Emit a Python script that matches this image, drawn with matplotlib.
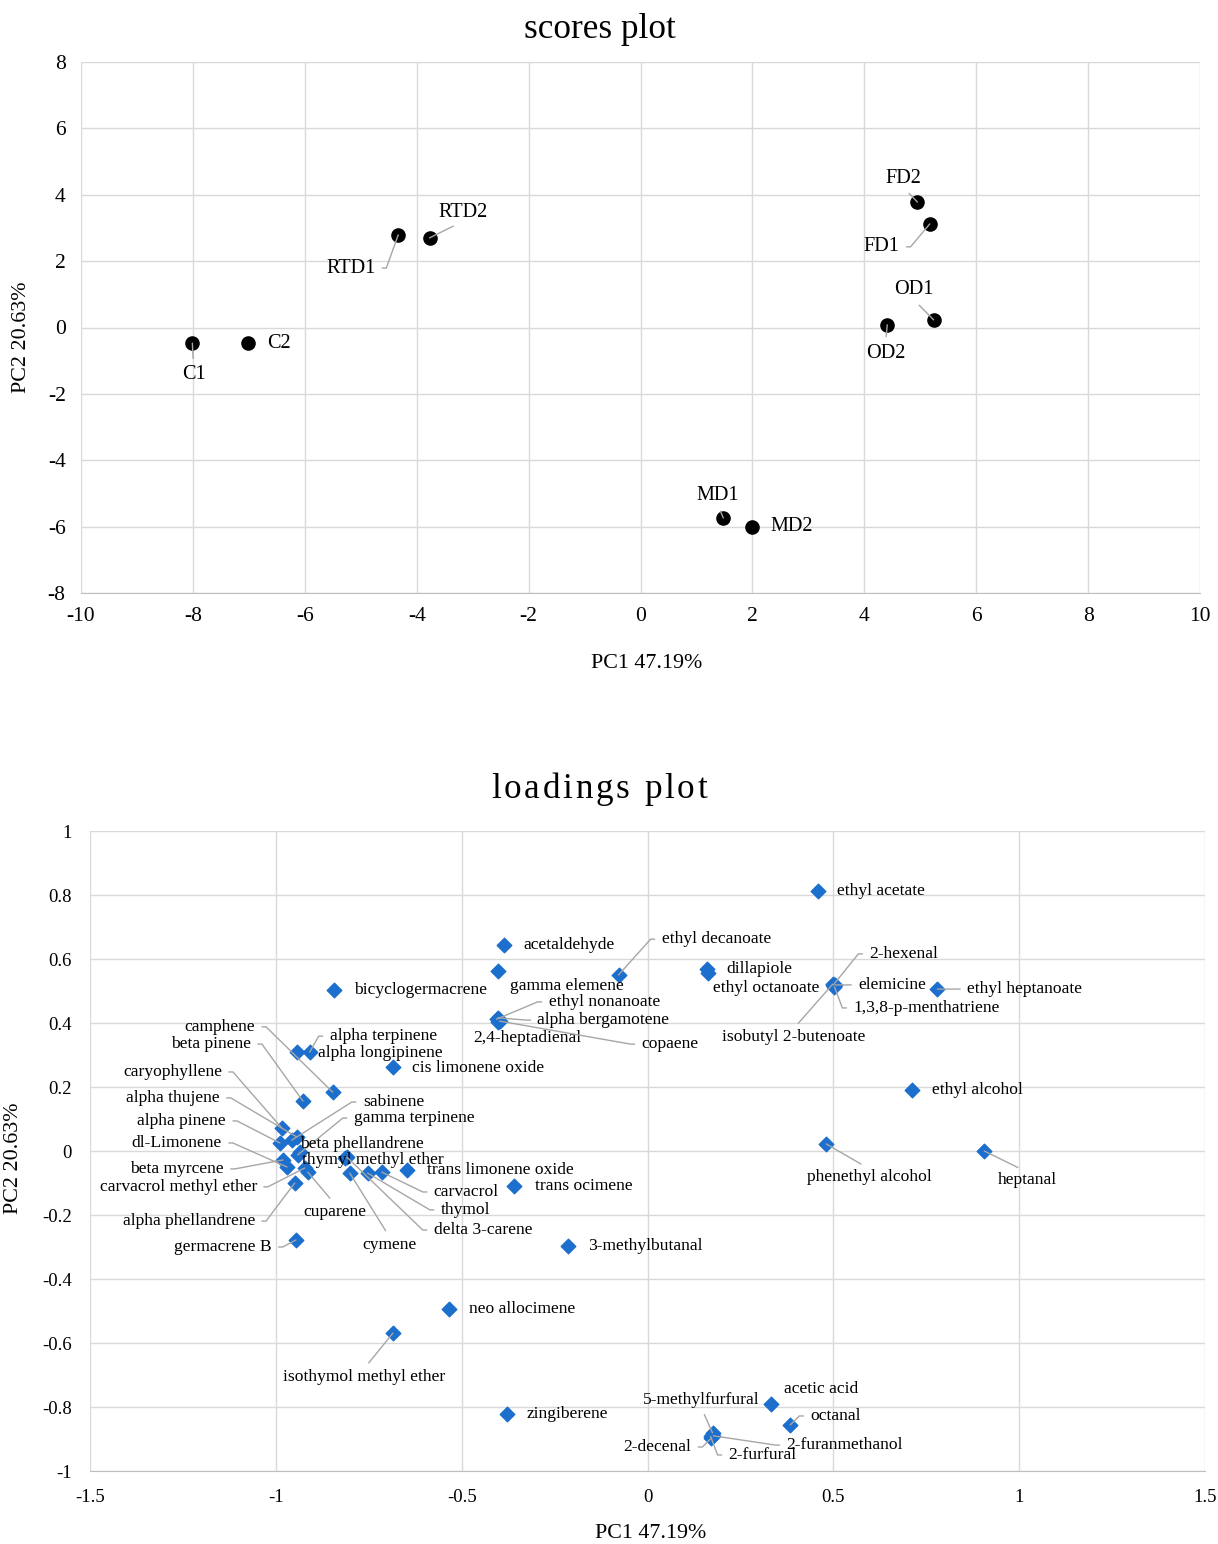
import numpy as np
import matplotlib as mpl
mpl.use('Agg')
import matplotlib.pyplot as plt

plt.rcParams['font.family'] = ['Liberation Serif', 'DejaVu Serif']
plt.rcParams['axes.unicode_minus'] = False

# ---- scores data ----
score_names = ['C1', 'C2', 'RTD1', 'RTD2', 'FD2', 'FD1', 'OD1', 'OD2', 'MD1', 'MD2']
score_pc1 = [-8.01, -7.02, -4.33, -3.77, 4.95, 5.17, 5.24, 4.41, 1.48, 2.00]
score_pc2 = [-0.47, -0.47, 2.79, 2.70, 3.78, 3.12, 0.23, 0.08, -5.74, -6.01]

# ---- loadings data ----
load_names = ['ethyl acetate', 'acetaldehyde', 'gamma elemene', 'ethyl decanoate',
              'dillapiole', 'ethyl octanoate', '2-hexenal', 'elemicine',
              'ethyl heptanoate', '1,3,8-p-menthatriene', 'isobutyl 2-butenoate',
              'bicyclogermacrene', 'ethyl nonanoate', 'alpha bergamotene',
              '2,4-heptadienal', 'copaene', 'alpha terpinene', 'alpha longipinene',
              'cis limonene oxide', 'camphene', 'beta pinene', 'caryophyllene',
              'alpha thujene', 'alpha pinene', 'dl-Limonene', 'beta myrcene',
              'carvacrol methyl ether', 'alpha phellandrene', 'germacrene B',
              'sabinene', 'gamma terpinene', 'beta phellandrene',
              'thymyl methyl ether', 'trans limonene oxide', 'carvacrol', 'thymol',
              'delta 3-carene', 'cuparene', 'cymene', 'trans ocimene',
              '3-methylbutanal', 'ethyl alcohol', 'phenethyl alcohol', 'heptanal',
              'neo allocimene', 'isothymol methyl ether', 'zingiberene',
              'acetic acid', 'octanal', '5-methylfurfural', '2-decenal',
              '2-furfural', '2-furanmethanol']
load_pc1 = [0.460, -0.387, -0.403, -0.078, 0.161, 0.164, 0.500, 0.505, 0.780, 0.503,
            0.498, -0.844, -0.406, -0.403, -0.401, -0.398, -0.909, -0.944, -0.685,
            -0.847, -0.927, -0.984, -0.944, -0.989, -0.970, -0.981, -0.922, -0.949,
            -0.946, -0.957, -0.941, -0.935, -0.815, -0.648, -0.715, -0.753, -0.809,
            -0.914, -0.801, -0.358, -0.215, 0.712, 0.481, 0.906, -0.535, -0.685,
            -0.379, 0.331, 0.384, 0.175, 0.172, 0.170, 0.177]
load_pc2 = [0.812, 0.644, 0.562, 0.550, 0.569, 0.556, 0.519, 0.519, 0.506, 0.513,
            0.521, 0.503, 0.412, 0.416, 0.403, 0.406, 0.309, 0.309, 0.262, 0.184,
            0.156, 0.072, 0.044, 0.025, -0.050, -0.028, -0.053, -0.100, -0.278,
            0.034, -0.012, -0.003, -0.022, -0.059, -0.066, -0.069, -0.019, -0.066,
            -0.069, -0.109, -0.297, 0.191, 0.022, 0.000, -0.494, -0.569, -0.822,
            -0.791, -0.856, -0.881, -0.897, -0.892, -0.890]

# label placement: (x, y, ha, leader)
score_lab = {
    'C1': (-7.99, -1.43, 'center', 'top'), 'C2': (-6.68, -0.47, 'left', None),
    'RTD1': (-4.74, 1.79, 'right', 'stub'), 'RTD2': (-3.18, 3.48, 'center', 'bottom'),
    'FD2': (4.70, 4.50, 'center', 'bottom'), 'FD1': (4.63, 2.43, 'right', 'stub'),
    'OD1': (4.88, 1.13, 'center', 'bottom'), 'OD2': (4.38, -0.77, 'center', 'top'),
    'MD1': (1.38, -5.05, 'center', 'bottom'), 'MD2': (2.32, -6.01, 'left', None),
}
load_lab = [
    (0.511, 0.812, 'left', None), (-0.333, 0.644, 'left', None),
    (-0.371, 0.516, 'left', None), (0.038, 0.662, 'left', 'stub'),
    (0.212, 0.569, 'left', None), (0.462, 0.509, 'right', None),
    (0.597, 0.616, 'left', 'stub'), (0.567, 0.519, 'left', 'stub'),
    (0.860, 0.506, 'left', 'stub'), (0.554, 0.447, 'left', 'stub'),
    (0.392, 0.356, 'center', 'top'), (-0.790, 0.503, 'left', None),
    (-0.266, 0.466, 'left', 'stub'), (-0.296, 0.409, 'left', 'stub'),
    (-0.470, 0.353, 'left', None), (-0.016, 0.334, 'left', 'stub'),
    (-0.855, 0.359, 'left', 'stub'), (-0.887, 0.306, 'left', None),
    (-0.634, 0.259, 'left', None), (-1.056, 0.388, 'right', 'stub'),
    (-1.067, 0.334, 'right', 'stub'), (-1.145, 0.247, 'right', 'stub'),
    (-1.151, 0.166, 'right', 'stub'), (-1.134, 0.094, 'right', 'stub'),
    (-1.145, 0.025, 'right', 'stub'), (-1.140, -0.056, 'right', 'stub'),
    (-1.051, -0.112, 'right', 'stub'), (-1.056, -0.219, 'right', 'stub'),
    (-1.011, -0.300, 'right', 'stub'), (-0.766, 0.153, 'left', 'stub'),
    (-0.790, 0.103, 'left', 'stub'), (-0.935, 0.022, 'left', None),
    (-0.930, -0.028, 'left', None), (-0.594, -0.059, 'left', None),
    (-0.575, -0.128, 'left', 'stub'), (-0.556, -0.184, 'left', 'stub'),
    (-0.575, -0.247, 'left', 'stub'), (-0.841, -0.191, 'center', 'top'),
    (-0.694, -0.294, 'center', 'top'), (-0.304, -0.109, 'left', None),
    (-0.161, -0.297, 'left', None), (0.766, 0.191, 'left', None),
    (0.597, -0.081, 'center', 'top'), (1.022, -0.091, 'center', 'top'),
    (-0.481, -0.494, 'left', None), (-0.763, -0.706, 'center', 'top'),
    (-0.325, -0.822, 'left', None), (0.368, -0.744, 'left', None),
    (0.438, -0.828, 'left', 'stub'), (0.145, -0.778, 'center', 'bottom'),
    (0.118, -0.925, 'right', 'stub'), (0.218, -0.950, 'left', 'stub'),
    (0.374, -0.919, 'left', 'stub'),
]

grid_c = '#d9d9d9'
lead_c = '#a6a6a6'


def put_label(ax, name, px, py, spec, fs):
    lx, ly, ha, lead = spec
    if lead is None:
        ax.text(lx, ly, name, ha=ha, va='center', fontsize=fs, zorder=5)
        return
    if lead == 'stub':
        rel = (1, 0.5) if ha == 'right' else (0, 0.5)
        ang = 0 if ha == 'right' else 180
        cs = 'arc,angleA=%d,armA=11,angleB=0,armB=0,rad=0' % ang
    elif lead == 'top':
        rel = (0.5, 1)
        cs = 'arc3'
    else:
        rel = (0.5, 0)
        cs = 'arc3'
    ax.annotate(name, xy=(px, py), xytext=(lx, ly), ha=ha, va='center',
                fontsize=fs, zorder=5,
                arrowprops=dict(arrowstyle='-', color=lead_c, lw=1.0,
                                shrinkA=3, shrinkB=0, relpos=rel,
                                connectionstyle=cs))


def style_ax(ax, fs):
    for s in ['top', 'right', 'left']:
        ax.spines[s].set_visible(False)
    ax.spines['bottom'].set_color('#bfbfbf')
    ax.grid(True, color=grid_c, lw=1.0)
    ax.set_axisbelow(True)
    ax.tick_params(length=0, labelsize=fs)


def spaced_title(fig, cx, base_y, s, fs, extra):
    # draw text char by char to get the wide letter spacing of the original
    r = fig.canvas.get_renderer()
    W, H = fig.bbox.width, fig.bbox.height
    widths = []
    for ch in s:
        if ch == ' ':
            a = fig.text(0, 0, 'a a', fontsize=fs)
            b = fig.text(0, 0, 'aa', fontsize=fs)
            w = a.get_window_extent(r).width - b.get_window_extent(r).width
            a.remove(); b.remove()
        else:
            t = fig.text(0, 0, ch, fontsize=fs)
            w = t.get_window_extent(r).width
            t.remove()
        widths.append(w)
    total = sum(widths) + extra * (len(s) - 1)
    x = cx - total / 2
    for ch, w in zip(s, widths):
        if ch != ' ':
            fig.text(x / W, 1 - base_y / H, ch, fontsize=fs, ha='left', va='baseline')
        x += w + extra


fig = plt.figure(figsize=(12.18, 15.44), dpi=100)

# scores plot
ax1 = fig.add_axes([81/1218, 1-593/1544, 1119/1218, 531/1544])
style_ax(ax1, 15.5)
ax1.tick_params(axis='y', pad=11)
ax1.tick_params(axis='x', pad=10)
ax1.set_xlim(-10, 10)
ax1.set_ylim(-8, 8)
ax1.set_xticks(np.arange(-10, 11, 2))
ax1.set_yticks(np.arange(-8, 9, 2))
ax1.scatter(score_pc1, score_pc2, s=90, color='black', zorder=4)
for i, n in enumerate(score_names):
    put_label(ax1, n, score_pc1[i], score_pc2[i], score_lab[n], 14.6)

# loadings plot
ax2 = fig.add_axes([90/1218, 1-1471/1544, 1115/1218, 640/1544])
style_ax(ax2, 13.5)
ax2.tick_params(axis='y', pad=13)
ax2.tick_params(axis='x', pad=13)
ax2.set_xlim(-1.5, 1.5)
ax2.set_ylim(-1, 1)
xt = [-1.5, -1, -0.5, 0, 0.5, 1, 1.5]
ax2.set_xticks(xt)
ax2.set_xticklabels(['%g' % v for v in xt])
yt = np.round(np.arange(-1, 1.01, 0.2), 1)
ax2.set_yticks(yt)
ax2.set_yticklabels(['%g' % v if v != 0 else '0' for v in yt])
ax2.scatter(load_pc1, load_pc2, s=55, marker='D', color='#1c6fcc', zorder=4)
for i, n in enumerate(load_names):
    put_label(ax2, n, load_pc1[i], load_pc2[i], load_lab[i], 12.6)

fig.text(600/1218, 1-30/1544, 'scores plot', ha='center', va='center', fontsize=25.3)
spaced_title(fig, 599, 798, 'loadings plot', 25.3, 2.8)
fig.text(647/1218, 1-664/1544, 'PC1 47.19%', ha='center', va='center', fontsize=15.8)
fig.text(22/1218, 1-337/1544, 'PC2 20.63%', ha='center', va='center', fontsize=15.8, rotation=90)
fig.text(651/1218, 1-1533/1544, 'PC1 47.19%', ha='center', va='center', fontsize=15.8)
fig.text(14/1218, 1-1158/1544, 'PC2 20.63%', ha='center', va='center', fontsize=15.8, rotation=90)

plt.savefig('out.png', dpi=100)
plt.close()
